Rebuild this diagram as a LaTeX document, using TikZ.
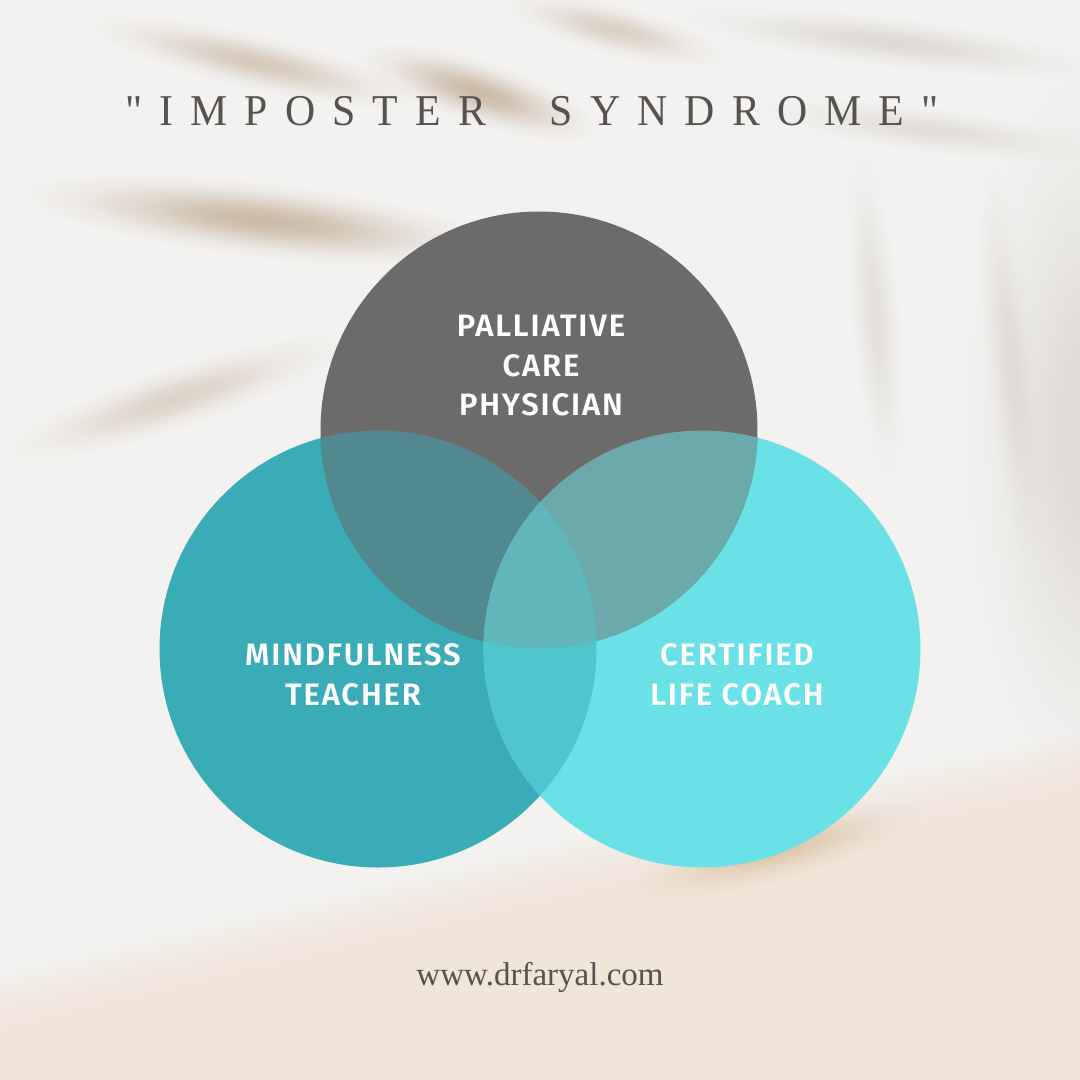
\documentclass[tikz,border=0pt]{standalone}
\usepackage{fontspec}
\usetikzlibrary{fadings}
\setmainfont{Liberation Serif}
\newfontfamily\titlefont[LetterSpace=41]{Liberation Serif}
\newfontfamily\webfont{Liberation Serif}
\newfontfamily\labelfont[LetterSpace=6]{Fira Sans SemiBold}
\definecolor{bgbase}{HTML}{F3F2F0}
\definecolor{bgbot}{HTML}{F1E5D8}
\definecolor{leafc}{HTML}{C7B39D}
\definecolor{leafg}{HTML}{CFC9C3}
\definecolor{sandc}{HTML}{D9BFA2}
\definecolor{ctop}{HTML}{6C6B6C}
\definecolor{cleft}{HTML}{3AACB8}
\definecolor{cright}{HTML}{69E1E6}
\definecolor{ctl}{HTML}{52888F}
\definecolor{ctr}{HTML}{6BA9AA}
\definecolor{clr}{HTML}{4FC5CC}
\definecolor{cmid}{HTML}{61B6BC}
\definecolor{titlec}{HTML}{55524F}
% soft radial fading: opaque centre, transparent rim
\pgfdeclareradialshading{blobshade}{\pgfpointorigin}{color(0bp)=(white); color(6bp)=(black!15); color(13bp)=(black!55); color(19bp)=(black!85); color(25bp)=(black); color(50bp)=(black)}
\pgfdeclarefading{blobfade}{\pgfuseshading{blobshade}}
% soft stroke: colour, max width, opacity per layer, path
\newcommand{\softstroke}[4]{%
  \foreach \k in {1,...,16}{\draw[#1, line cap=round, line join=round, opacity=#3, line width=#2*\k/16] #4;}}
% soft streak: colour, x, y, angle (clockwise), half length, half width, opacity
\newcommand{\streak}[7]{%
  \begin{scope}[transform canvas={shift={(#2,#3)}, rotate=-#4}]
    \fill[#1, path fading=blobfade, fill opacity=#7] (0,0) ellipse ({#5} and {#6});
  \end{scope}}
\tikzset{
  vlabel/.style={text=white, align=center, font=\labelfont\fontsize{31}{39.5}\selectfont},
}
\begin{document}
\begin{tikzpicture}[x=1pt,y=-1pt]
\useasboundingbox (0,0) rectangle (1080,1080);
\fill[bgbase] (0,0) rectangle (1080,1080);
% grey tint on the right side
\streak{leafg}{1090}{430}{0}{130}{380}{0.6}
% warm floor at the bottom
\fill[bgbot] (0,1080) -- (0,1030) -- (660,875) -- (1080,790) -- (1080,1080) -- cycle;
\softstroke{bgbot}{110}{0.07}{(0,1030) -- (660,875) -- (1080,790)}
\streak{sandc}{775}{850}{-15}{150}{32}{0.8}
% blurred palm-leaf shadows
\streak{leafc}{262}{220}{6.5}{240}{38}{0.9}
\streak{leafc}{255}{62}{13}{170}{28}{0.65}
\streak{leafc}{478}{92}{18}{125}{32}{0.9}
\streak{leafc}{615}{30}{14}{115}{26}{0.55}
\streak{leafc}{175}{398}{-18}{180}{32}{0.5}
\streak{leafg}{890}{42}{7}{215}{26}{0.6}
\streak{leafg}{930}{130}{7}{175}{24}{0.5}
\streak{leafg}{875}{315}{85}{175}{26}{0.45}
\streak{leafg}{1010}{360}{84}{205}{26}{0.45}
% circle centres
\coordinate (cT) at (539,430);
\coordinate (cL) at (378,649);
\coordinate (cR) at (702,649);
% circles
\fill[cleft] (cL) circle (218.5);
\fill[cright] (cR) circle (218.5);
\fill[ctop] (cT) circle (218.5);
\begin{scope}
  \clip (cT) circle (218.5);
  \fill[ctl] (cL) circle (218.5);
  \fill[ctr] (cR) circle (218.5);
\end{scope}
\begin{scope}
  \clip (cL) circle (218.5);
  \fill[clr] (cR) circle (218.5);
  \clip (cR) circle (218.5);
  \fill[cmid] (cT) circle (218.5);
\end{scope}
% labels
\node[vlabel] (ltop) at (541,366) {PALLIATIVE\\CARE\\PHYSICIAN};
\node[vlabel] (lleft) at (353,675) {MINDFULNESS\\TEACHER};
\node[vlabel] (lright) at (737,675) {CERTIFIED\\LIFE COACH};
% title
\node[anchor=base west, inner sep=0pt, xscale=0.95, text=titlec, font=\titlefont\fontsize{44}{52}\selectfont] (title) at (125,125) {"IMPOSTER \hspace{38pt}SYNDROME"};
% footer
\node[anchor=base, inner sep=0pt, text=titlec, font=\webfont\fontsize{33}{40}\selectfont] (web) at (540,985) {www.drfaryal.com};
\end{tikzpicture}
\end{document}
